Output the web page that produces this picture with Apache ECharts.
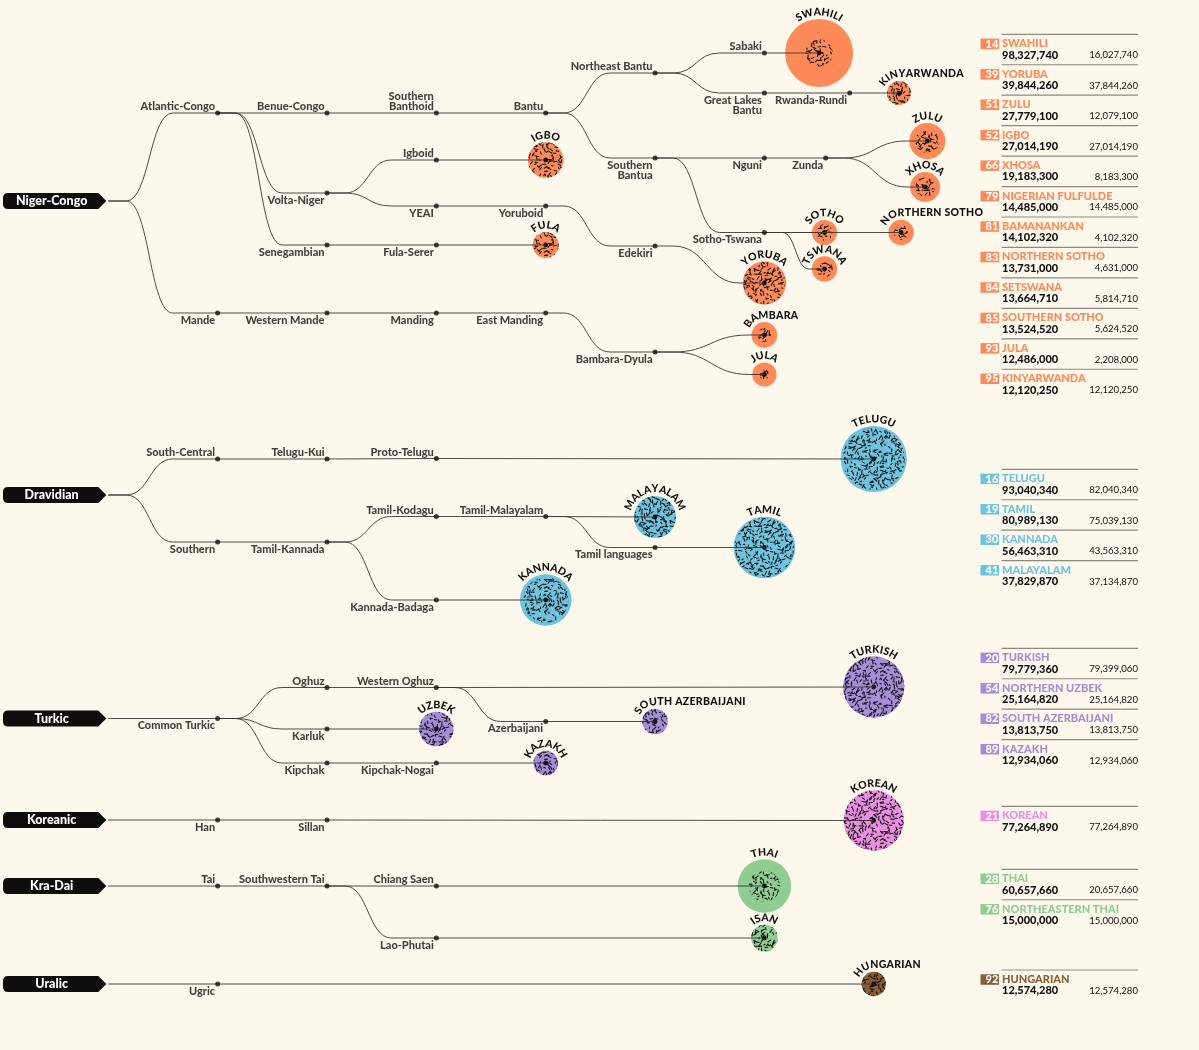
<!DOCTYPE html>
<html><head><meta charset="utf-8">
<script src="https://cdn.jsdelivr.net/npm/echarts@6/dist/echarts.min.js"></script>
<style>html,body{margin:0;padding:0;background:#fdf8ec;}#c{width:1199px;height:1050px;}</style>
</head><body><div id="c"></div>
<script>
// ================= DATA =================
const families = ['Niger-Congo','Dravidian','Turkic','Koreanic','Kra-Dai','Uralic'];

// internal tree nodes and their parents
const nodeNames = [
 'Niger-Congo','Atlantic-Congo','Mande','Benue-Congo','Volta-Niger','Senegambian','Southern\nBanthoid','Bantu','Northeast Bantu','Southern\nBantua','Sabaki','Great Lakes\nBantu','Rwanda-Rundi','Nguni','Zunda','Sotho-Tswana','Igboid','YEAI','Yoruboid','Edekiri','Fula-Serer','Western Mande','Manding','East Manding','Bambara-Dyula',
 'Dravidian','South-Central','Telugu-Kui','Proto-Telugu','Southern','Tamil-Kannada','Tamil-Kodagu','Tamil-Malayalam','Tamil languages','Kannada-Badaga',
 'Turkic','Common Turkic','Oghuz','Western Oghuz','Azerbaijani','Karluk','Kipchak','Kipchak-Nogai',
 'Koreanic','Han','Sillan',
 'Kra-Dai','Tai','Southwestern Tai','Chiang Saen','Lao-Phutai',
 'Uralic','Ugric'
];
const nodeParents = [
 null,'Niger-Congo','Niger-Congo','Atlantic-Congo','Atlantic-Congo','Atlantic-Congo','Benue-Congo','Southern\nBanthoid','Bantu','Bantu','Northeast Bantu','Northeast Bantu','Great Lakes\nBantu','Southern\nBantua','Nguni','Southern\nBantua','Volta-Niger','Volta-Niger','YEAI','Yoruboid','Senegambian','Mande','Western Mande','Manding','East Manding',
 null,'Dravidian','South-Central','Telugu-Kui','Dravidian','Southern','Tamil-Kannada','Tamil-Kodagu','Tamil-Malayalam','Tamil-Kannada',
 null,'Turkic','Common Turkic','Oghuz','Western Oghuz','Common Turkic','Common Turkic','Kipchak',
 null,'Koreanic','Han',
 null,'Kra-Dai','Tai','Southwestern Tai','Southwestern Tai',
 null,'Uralic'
];

// leaf languages (circles)
const leafNames = ['SWAHILI','KINYARWANDA','ZULU','XHOSA','SOTHO','NORTHERN SOTHO','TSWANA','IGBO','YORUBA','FULA','BAMBARA','JULA','TELUGU','MALAYALAM','TAMIL','KANNADA','TURKISH','SOUTH AZERBAIJANI','UZBEK','KAZAKH','KOREAN','THAI','ISAN','HUNGARIAN'];
const leafParents = ['Sabaki','Rwanda-Rundi','Zunda','Zunda','Sotho-Tswana','Sotho-Tswana','Sotho-Tswana','Igboid','Edekiri','Fula-Serer','Bambara-Dyula','Bambara-Dyula','Proto-Telugu','Tamil-Malayalam','Tamil languages','Kannada-Badaga','Western Oghuz','Azerbaijani','Karluk','Kipchak-Nogai','Sillan','Chiang Saen','Lao-Phutai','Ugric'];
const leafTableEntry = ['SWAHILI','KINYARWANDA','ZULU','XHOSA','SOUTHERN SOTHO','NORTHERN SOTHO','SETSWANA','IGBO','YORUBA','NIGERIAN FULFULDE','BAMANANKAN','JULA','TELUGU','MALAYALAM','TAMIL','KANNADA','TURKISH','SOUTH AZERBAIJANI','NORTHERN UZBEK','KAZAKH','KOREAN','THAI','NORTHEASTERN THAI','HUNGARIAN'];

// table (ranking, total speakers, native speakers)
const tableFamily = ['Niger-Congo','Niger-Congo','Niger-Congo','Niger-Congo','Niger-Congo','Niger-Congo','Niger-Congo','Niger-Congo','Niger-Congo','Niger-Congo','Niger-Congo','Niger-Congo','Dravidian','Dravidian','Dravidian','Dravidian','Turkic','Turkic','Turkic','Turkic','Koreanic','Kra-Dai','Kra-Dai','Uralic'];
const tableRank = [14,39,51,52,66,79,81,83,84,85,93,95,16,19,30,41,20,54,82,89,21,28,76,92];
const tableName = ['SWAHILI','YORUBA','ZULU','IGBO','XHOSA','NIGERIAN FULFULDE','BAMANANKAN','NORTHERN SOTHO','SETSWANA','SOUTHERN SOTHO','JULA','KINYARWANDA','TELUGU','TAMIL','KANNADA','MALAYALAM','TURKISH','NORTHERN UZBEK','SOUTH AZERBAIJANI','KAZAKH','KOREAN','THAI','NORTHEASTERN THAI','HUNGARIAN'];
const tableTotal = [98327740,39844260,27779100,27014190,19183300,14485000,14102320,13731000,13664710,13524520,12486000,12120250,93040340,80989130,56463310,37829870,79779360,25164820,13813750,12934060,77264890,60657660,15000000,12574280];
const tableNative = [16027740,37844260,12079100,27014190,8183300,14485000,4102320,4631000,5814710,5624520,2208000,12120250,82040340,75039130,43563310,37134870,79399060,25164820,13813750,12934060,77264890,20657660,15000000,12574280];

// ================= LAYOUT (positions: tree depth on x, lane on y) =================
const NODE_POS = {
 'Niger-Congo':[0,201],'Atlantic-Congo':[1,113,'a'],'Mande':[1,313,'b'],'Benue-Congo':[2,113,'a'],'Volta-Niger':[2,193,'b'],'Senegambian':[2,245,'b'],
 'Southern\nBanthoid':[3,113,'a'],'Bantu':[4,113,'a'],'Northeast Bantu':[5,73,'a'],'Southern\nBantua':[5,158,'b'],'Sabaki':[6,53,'a'],
 'Great Lakes\nBantu':[6,93,'b'],'Rwanda-Rundi':[6.78,93,'b'],'Nguni':[6,158,'b'],'Zunda':[6.56,158,'b'],'Sotho-Tswana':[6,232.5,'b'],
 'Igboid':[3,160,'a'],'YEAI':[3,206,'b'],'Yoruboid':[4,206,'b'],'Edekiri':[5,246,'b'],'Fula-Serer':[3,245,'b'],
 'Western Mande':[2,313,'b'],'Manding':[3,313,'b'],'East Manding':[4,313,'b'],'Bambara-Dyula':[5,352,'b'],
 'Dravidian':[0,495],'South-Central':[1,459,'a'],'Telugu-Kui':[2,459,'a'],'Proto-Telugu':[3,458.5,'a'],'Southern':[1,542,'b'],
 'Tamil-Kannada':[2,542,'b'],'Tamil-Kodagu':[3,516.5,'a'],'Tamil-Malayalam':[4,516.5,'a'],'Tamil languages':[5,547.5,'b'],'Kannada-Badaga':[3,600,'b'],
 'Turkic':[0,718.5],'Common Turkic':[1,718.5,'b'],'Oghuz':[2,687.5,'a'],'Western Oghuz':[3,687.5,'a'],'Azerbaijani':[4,721.5,'b'],
 'Karluk':[2,729,'b'],'Kipchak':[2,763,'b'],'Kipchak-Nogai':[3,763,'b'],
 'Koreanic':[0,820],'Han':[1,820,'b'],'Sillan':[2,820,'b'],
 'Kra-Dai':[0,886],'Tai':[1,886,'a'],'Southwestern Tai':[2,886,'a'],'Chiang Saen':[3,886,'a'],'Lao-Phutai':[3,938,'b'],
 'Uralic':[0,984],'Ugric':[1,984,'b']
};
const LEAF_POS = {
 'SWAHILI':[6.5,53],'KINYARWANDA':[7.23,93],'ZULU':[7.49,141],'XHOSA':[7.47,187],'SOTHO':[6.55,232.5],'NORTHERN SOTHO':[7.25,232.5],
 'TSWANA':[6.55,269],'IGBO':[4,160],'YORUBA':[6,283],'FULA':[4,245],'BAMBARA':[6,335],'JULA':[6,374.5],
 'TELUGU':[7,459],'MALAYALAM':[5,517],'TAMIL':[6,547.5],'KANNADA':[4,600],
 'TURKISH':[7,687],'SOUTH AZERBAIJANI':[5,721.5],'UZBEK':[3,729],'KAZAKH':[4,763],
 'KOREAN':[7,820.5],'THAI':[6,886],'ISAN':[6,938],'HUNGARIAN':[7,984]
};
const TABLE_TOP = {'Niger-Congo':34.3,'Dravidian':469.3,'Turkic':648.3,'Koreanic':806.3,'Kra-Dai':869.3,'Uralic':970};
const ROW_STEP = 30.45;

// ================= STYLES =================
const BG = '#fdf8ec';
const FAMILY_COLORS = {'Niger-Congo':'#fd8a58','Dravidian':'#6ec3df','Turkic':'#a58dd8','Koreanic':'#ea8ee2','Kra-Dai':'#8fcd92','Uralic':'#8a5d35'};
const FONT = 'Lato';
const R_MAX = 34; // px radius for the largest total

// x: depth unit -> px  (depth 0 at 108.3, 109.35 px per level)
const X0 = 108.3, XS = 109.35, W = 1199, H = 1050;
const xMin = -X0 / XS, xMax = (W - X0) / XS;

const maxTotal = Math.max(...tableTotal);
const rScale = v => R_MAX * Math.sqrt(v / maxTotal);

function familyOf(name){
  let n = name;
  while (true){
    const i = nodeNames.indexOf(n);
    if (nodeParents[i] === null) return n;
    n = nodeParents[i];
  }
}

// speckle texture (jittered grid of short dashes)
function makePattern(){
  const S = 84, cell = 3.5, c = document.createElement('canvas'); c.width = c.height = S;
  const g = c.getContext('2d');
  let s = 424242;
  const rnd = () => { s = (s * 16807) % 2147483647; return s / 2147483647; };
  g.strokeStyle = '#141414'; g.lineWidth = 1.1; g.lineCap = 'round';
  const n = S / cell;
  for (let i = 0; i < n; i++) for (let j = 0; j < n; j++){
    if (rnd() < 0.12) continue;
    const x = (i + rnd()) * cell, y = (j + rnd()) * cell, a = rnd()*Math.PI*2, l = 1.3 + rnd()*2.4;
    const dx = Math.cos(a)*l/2, dy = Math.sin(a)*l/2;
    for (const ox of [-S,0,S]) for (const oy of [-S,0,S]){
      g.beginPath(); g.moveTo(x+ox-dx, y+oy-dy); g.lineTo(x+ox+dx, y+oy+dy); g.stroke();
    }
  }
  return c;
}
const patternCanvas = makePattern();

const mctx = document.createElement('canvas').getContext('2d');
const LEAF_FONT = '900 10.5px ' + FONT;
mctx.font = LEAF_FONT;
const LS = 0.3; // letter spacing

// ================= SERIES DATA =================
const leafData = leafNames.map((n, i) => {
  const ti = tableName.indexOf(leafTableEntry[i]);
  const p = LEAF_POS[n];
  return {name: n, value: [p[0], p[1], tableTotal[ti], tableNative[ti]],
          fam: familyOf(leafParents[i])};
});

const dotData = [], edgeData = [], rootData = [];
nodeNames.forEach((n, i) => {
  const p = NODE_POS[n];
  if (nodeParents[i] === null){ rootData.push({name:n, value:[p[0], p[1]]}); return; }
  const side = p[2];
  dotData.push({name: n, value: [p[0], p[1]],
    label: side === 'a' ? {position:[0, 1.5], verticalAlign:'bottom'} : {position:[0, 4.5], verticalAlign:'top'}});
  const q = NODE_POS[nodeParents[i]];
  edgeData.push([q[0], q[1], p[0], p[1], 0]);
});
leafNames.forEach((n, i) => {
  const q = NODE_POS[leafParents[i]], p = LEAF_POS[n];
  edgeData.push([q[0], q[1], p[0], p[1], rScale(leafData[i].value[2])]);
});

// ================= RENDERERS =================
function renderEdge(params, api){
  const p = api.coord([api.value(0), api.value(1)]);
  const c = api.coord([api.value(2), api.value(3)]);
  const cr = api.value(4);
  let d;
  if (Math.abs(p[1]-c[1]) < 0.6){
    d = `M${p[0]} ${p[1]} L${c[0]} ${c[1]}`;
  } else {
    const s = p[0] + 18;
    let e = cr > 0 ? c[0] - cr - 3 : c[0] - 45;
    if (e < s + 22) e = s + 22;
    const m = (s + e) / 2;
    d = `M${p[0]} ${p[1]} L${s} ${p[1]} C${m} ${p[1]} ${m} ${c[1]} ${e} ${c[1]} L${c[0]} ${c[1]}`;
  }
  return {type:'path', shape:{pathData:d}, style:{stroke:'#3a3936', lineWidth:0.9, fill:'none'}};
}

function renderLeaf(params, api){
  const item = leafData[params.dataIndex];
  const c = api.coord([api.value(0), api.value(1)]);
  const total = api.value(2), nat = api.value(3);
  const r = rScale(total), rin = r * Math.sqrt(nat / total);
  const children = [
    {type:'circle', shape:{cx:c[0], cy:c[1], r:r}, style:{fill:FAMILY_COLORS[item.fam]}},
    {type:'circle', shape:{cx:c[0], cy:c[1], r:rin}, style:{fill:{image:patternCanvas, repeat:'repeat'}}},
    {type:'circle', shape:{cx:c[0], cy:c[1], r:2.4}, style:{fill:'#111'}, z2:10}
  ];
  // curved name: baseline radius R, spacing measured at mid-height radius Rm
  const R = r + 1.5, Rm = R + 3.8;
  const chars = item.name.split('');
  const ws = chars.map(ch => mctx.measureText(ch).width + LS);
  const L = ws.reduce((a,b)=>a+b,0) - LS;
  const centered = L / Rm <= 2.8;
  let s = centered ? -L/2 : -1.15 * Rm;
  chars.forEach((ch, k) => {
    const sc = s + (ws[k]-LS)/2;
    let x, y, rot;
    if (centered || sc <= 0){
      const th = sc / Rm;
      x = c[0] + R*Math.sin(th); y = c[1] - R*Math.cos(th); rot = -th;
    } else {
      x = c[0] + sc; y = c[1] - R; rot = 0;
    }
    children.push({type:'text', x:x, y:y, rotation:rot,
      style:{text:ch, font:LEAF_FONT, fill:'#111', align:'center', verticalAlign:'bottom'}});
    s += ws[k];
  });
  return {type:'group', children};
}

function renderRoot(params, api){
  const c = api.coord([api.value(0), api.value(1)]);
  const tip = c[0] - 2, y = c[1], l = 3, h = 8, rr = 5, sh = tip - 8;
  const d = `M${l+rr} ${y-h} L${sh} ${y-h} L${tip} ${y} L${sh} ${y+h} L${l+rr} ${y+h} Q${l} ${y+h} ${l} ${y+h-rr} L${l} ${y-h+rr} Q${l} ${y-h} ${l+rr} ${y-h} Z`;
  return {type:'group', children:[
    {type:'path', shape:{pathData:d}, style:{fill:'#0d0d0d'}},
    {type:'text', x:(l+sh)/2 + 1, y:y, style:{text:rootData[params.dataIndex].name, font:'900 12.5px '+FONT, fill:'#fff', align:'center', verticalAlign:'middle'}}
  ]};
}

// ================= TABLE =================
const fmt = v => v.toLocaleString('en-US');
const tableEls = [];
const famRow = {};
tableName.forEach((n, i) => {
  const f = tableFamily[i];
  const k = famRow[f] = (famRow[f] === undefined ? 0 : famRow[f] + 1);
  const y0 = TABLE_TOP[f] + k * ROW_STEP;
  const col = FAMILY_COLORS[f];
  tableEls.push({type:'line', shape:{x1:1001.5, y1:y0, x2:1138, y2:y0}, style:{stroke:'#8d8981', lineWidth:1.2}});
  tableEls.push({type:'rect', shape:{x:980.5, y:y0+4.3, width:18.5, height:10.5}, style:{fill:col}});
  tableEls.push({type:'text', x:998.3, y:y0+9.7, style:{text:String(tableRank[i]), font:'900 11px '+FONT, fill:'#fff', align:'right', verticalAlign:'middle'}});
  tableEls.push({type:'text', x:1002, y:y0+9.5, style:{text:n, font:'900 11px '+FONT, fill:col, align:'left', verticalAlign:'middle'}});
  tableEls.push({type:'text', x:1002, y:y0+20.8, style:{text:fmt(tableTotal[i]), font:'900 11px '+FONT, fill:'#111', align:'left', verticalAlign:'middle'}});
  tableEls.push({type:'text', x:1138, y:y0+20.8, style:{text:fmt(tableNative[i]), font:'9.6px '+FONT, fill:'#111', align:'right', verticalAlign:'middle'}});
});

// ================= CHART =================
const chart = echarts.init(document.getElementById('c'), null, {renderer:'canvas'});
chart.setOption({
  backgroundColor: BG,
  animation: false,
  grid: {left:0, right:0, top:0, bottom:0, containLabel:false},
  xAxis: {type:'value', min:xMin, max:xMax, show:false},
  yAxis: {type:'value', min:0, max:H, inverse:true, show:false},
  series: [
    {type:'custom', name:'languages', z:1, clip:false, renderItem:renderLeaf, data:leafData, encode:{x:0, y:1}},
    {type:'custom', name:'branches', z:2, clip:false, renderItem:renderEdge, data:edgeData, encode:{x:[0,2], y:[1,3]}, silent:true},
    {type:'scatter', name:'nodes', z:3, symbol:'circle', symbolSize:5, itemStyle:{color:'#111'},
     label:{show:true, formatter:p=>p.name, color:'#111', fontFamily:FONT, fontWeight:900, fontSize:11, lineHeight:10.5, align:'right'},
     data:dotData},
    {type:'custom', name:'families', z:4, clip:false, renderItem:renderRoot, data:rootData, encode:{x:0, y:1}}
  ],
  graphic: {elements: tableEls}
});
</script></body></html>
